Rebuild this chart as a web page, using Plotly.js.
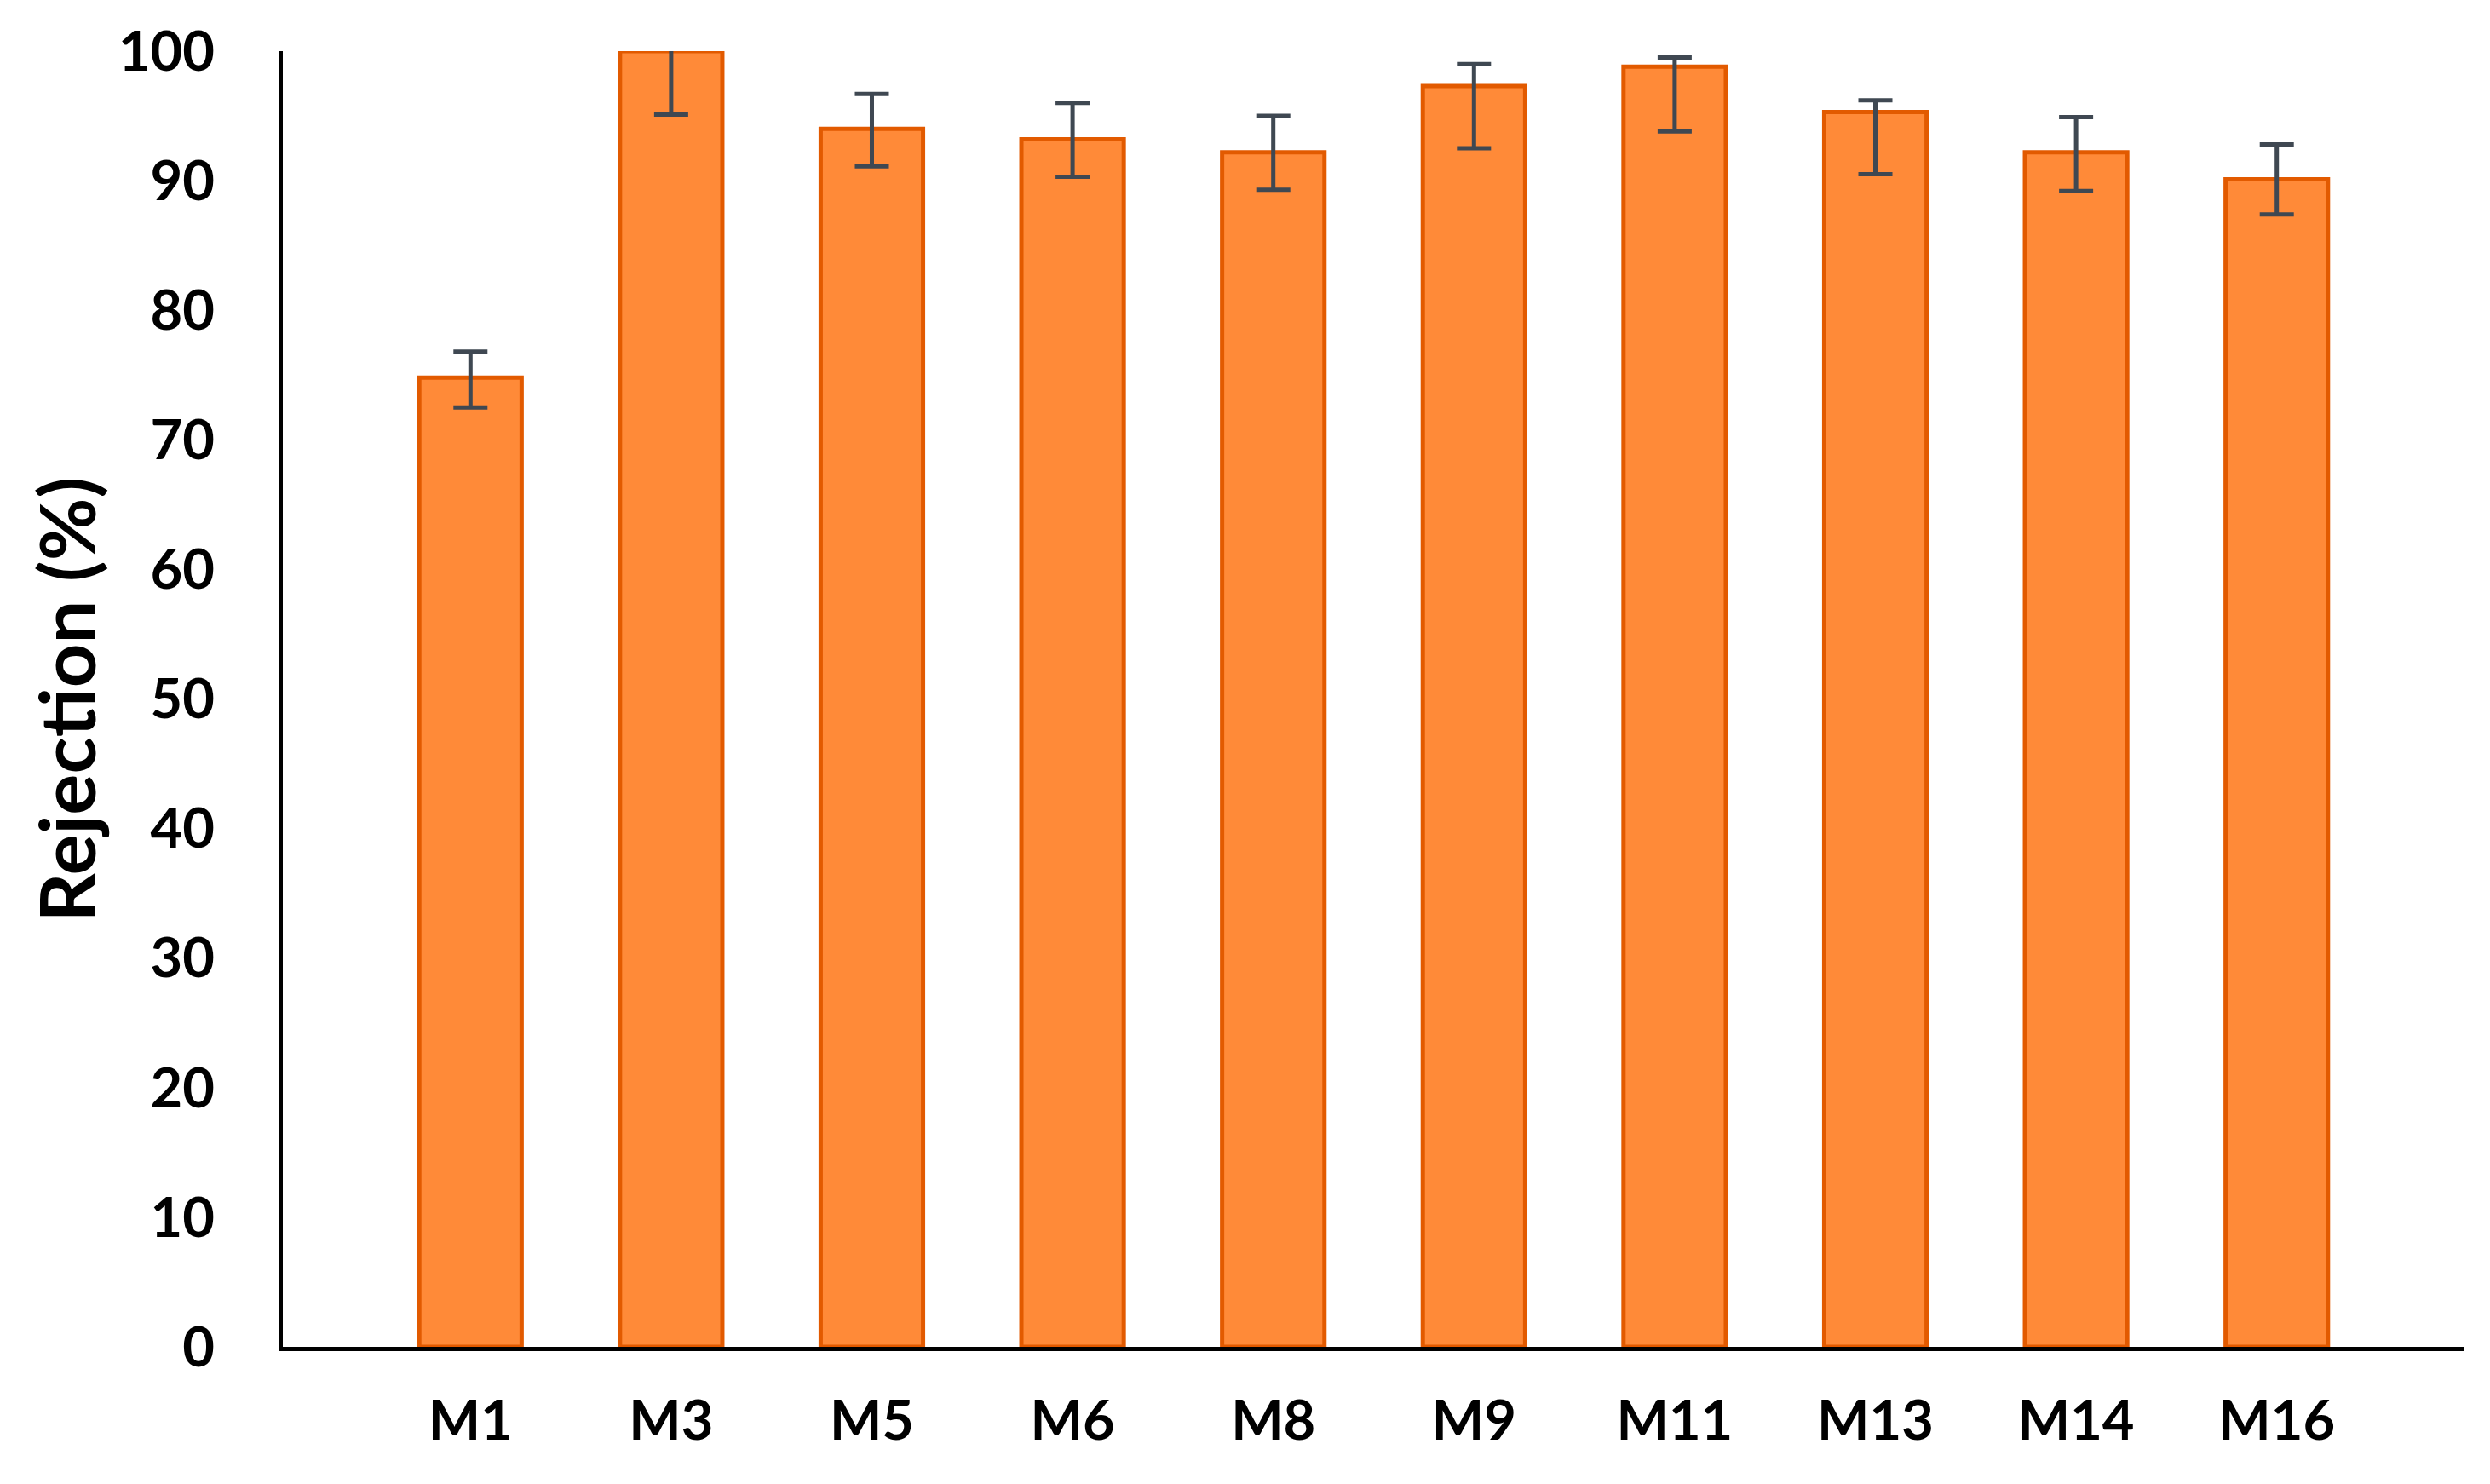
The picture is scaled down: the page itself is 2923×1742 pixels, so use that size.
<!DOCTYPE html>
<html>
<head>
<meta charset="utf-8">
<script src="https://cdn.plot.ly/plotly-3.0.1.min.js"></script>
<style>
  html, body { margin: 0; padding: 0; background: #ffffff; }
  #chart { width: 2923px; height: 1742px; }
</style>
</head>
<body>
<div id="chart"></div>
<script>
// membranes and their rejection (%)
var membranes = ['M1', 'M3', 'M5', 'M6', 'M8', 'M9', 'M11', 'M13', 'M14', 'M16'];
var rejection = [74.8, 100, 94.0, 93.2, 92.2, 97.3, 98.8, 95.3, 92.2, 90.1];
var errUp = [2.0, 4.9, 2.7, 2.8, 2.8, 1.7, 0.7, 0.9, 2.7, 2.7];
var errDown = [2.3, 4.9, 2.9, 2.9, 2.9, 4.8, 5.0, 4.8, 3.0, 2.7];
var yTicks = [0, 10, 20, 30, 40, 50, 60, 70, 80, 90, 100];

var trace1 = {
    x: membranes,
    y: rejection,
    type: 'bar',
    marker: {
        color: '#FF8A38',
        line: { color: '#E25A00', width: 5 }
    },
    error_y: {
        type: 'data',
        symmetric: false,
        array: errUp,
        arrayminus: errDown,
        color: '#3F4852',
        thickness: 5,
        width: 20
    },
    hoverinfo: 'x+y'
};

var tickFont = { family: 'Lato, "Liberation Sans", sans-serif', size: 65, color: '#000000', weight: 'bold' };

var layout = {
    width: 2923,
    height: 1742,
    margin: { l: 332, r: 30, t: 60, b: 161, pad: 0 },
    paper_bgcolor: '#ffffff',
    plot_bgcolor: '#ffffff',
    showlegend: false,
    bargap: 0.49,
    xaxis: {
        type: 'category',
        range: [-0.935, 9.935],
        showgrid: false,
        zeroline: false,
        showline: true,
        linecolor: '#000000',
        linewidth: 5,
        ticks: 'outside',
        ticklen: 26,
        tickcolor: 'rgba(0,0,0,0)',
        tickfont: tickFont
    },
    yaxis: {
        range: [0, 100],
        tickvals: yTicks,
        ticktext: yTicks.map(String),
        showgrid: false,
        zeroline: false,
        showline: true,
        linecolor: '#000000',
        linewidth: 5,
        ticks: 'outside',
        ticklen: 62,
        tickcolor: 'rgba(0,0,0,0)',
        tickfont: tickFont
    },
    // y title as an annotation so it can sit exactly where the original has it
    annotations: [{
        text: 'Rejection (%)',
        xref: 'paper',
        yref: 'paper',
        x: -0.0996,
        y: 0.5,
        xanchor: 'center',
        yanchor: 'middle',
        textangle: -90,
        showarrow: false,
        font: { family: 'Lato, "Liberation Sans", sans-serif', size: 90, color: '#000000', weight: 'bold' }
    }]
};

Plotly.newPlot('chart', [trace1], layout, { displayModeBar: false, staticPlot: true });
</script>
</body>
</html>
